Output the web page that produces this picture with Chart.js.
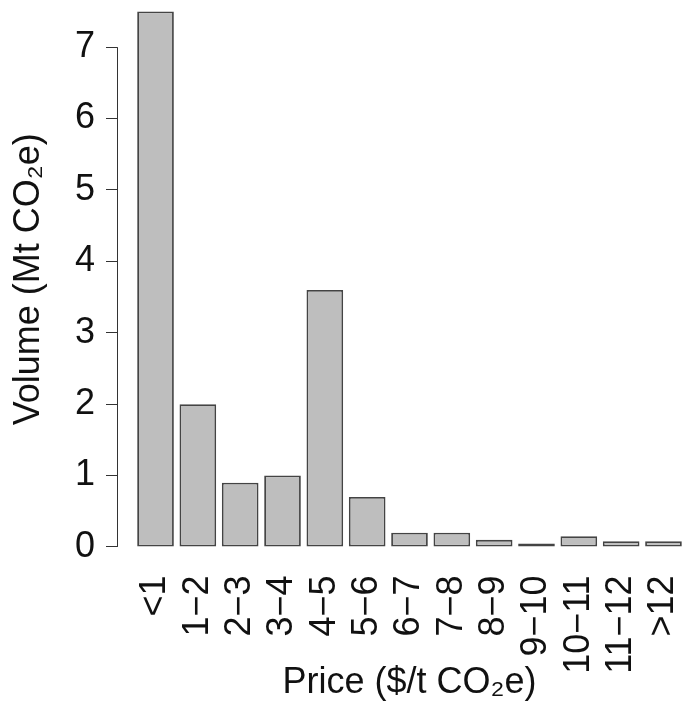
<!DOCTYPE html>
<html>
<head>
<meta charset="utf-8">
<script src="https://cdn.jsdelivr.net/npm/chart.js@4.4.0/dist/chart.umd.min.js"></script>
<style>
  html, body { margin: 0; padding: 0; background: #fff; overflow: hidden; }
  #wrap { position: absolute; left: 0; top: -10px; }
</style>
</head>
<body>
<div id="wrap"><canvas id="myChart" width="702" height="718"></canvas></div>
<script>
// price bins ($/t CO2e)
var priceBins = ["<1", "1−2", "2−3", "3−4", "4−5", "5−6", "6−7", "7−8", "8−9", "9−10", "10−11", "11−12", ">12"];
// traded volume per bin (Mt CO2e)
var volumes = [7.5, 2.0, 0.9, 1.0, 3.6, 0.7, 0.2, 0.2, 0.1, 0.05, 0.15, 0.08, 0.08];
// y axis ticks
var yTicks = [0, 1, 2, 3, 4, 5, 6, 7];

var font = "'Liberation Sans', Arial, sans-serif";
var textColor = "#111";

// R style axis: line runs only from first to last tick
var axisLine = {
    id: "axisLine",
    afterDraw: function (chart) {
        var y = chart.scales.y;
        var ctx = chart.ctx;
        var x = Math.round(chart.chartArea.left) + 0.5;
        ctx.save();
        ctx.strokeStyle = "#333";
        ctx.lineWidth = 1;
        ctx.beginPath();
        ctx.moveTo(x, y.getPixelForValue(yTicks[0]));
        ctx.lineTo(x, y.getPixelForValue(yTicks[yTicks.length - 1]));
        ctx.stroke();
        ctx.restore();
    }
};

var ctx = document.getElementById("myChart");
var myChart = new Chart(ctx, {
    type: "bar",
    data: {
        datasets: [{
            data: priceBins.map(function (b, i) { return { x: i, y: volumes[i] }; }),
            backgroundColor: "#bebebe",
            borderColor: "#444",
            borderWidth: 1.8,
            borderSkipped: false,
            barPercentage: 0.866,
            categoryPercentage: 1
        }]
    },
    options: {
        responsive: false,
        animation: false,
        layout: { padding: 0 },
        plugins: {
            legend: { display: false },
            tooltip: { enabled: false }
        },
        scales: {
            x: {
                type: "linear",
                offset: false,
                min: -0.91,
                max: 12.91,
                grid: { display: false, drawTicks: false },
                border: { display: false },
                afterBuildTicks: function (scale) {
                    scale.ticks = priceBins.map(function (b, i) { return { value: i }; });
                },
                afterFit: function (scale) {
                    scale.height = 139.6;
                    scale.paddingLeft = 0;
                    scale.paddingRight = 0;
                },
                ticks: {
                    autoSkip: false,
                    minRotation: 90,
                    maxRotation: 90,
                    padding: 7,
                    color: textColor,
                    font: { family: font, size: 36 },
                    callback: function (v) { return priceBins[v]; }
                },
                title: {
                    display: true,
                    text: "Price ($/t CO₂e)",
                    color: textColor,
                    font: { family: font, size: 36 },
                    padding: { top: 0, bottom: 3 }
                }
            },
            y: {
                min: -0.3,
                max: 7.8,
                afterBuildTicks: function (scale) {
                    scale.ticks = yTicks.map(function (v) { return { value: v }; });
                },
                afterFit: function (scale) {
                    scale.width = 117;
                    scale.paddingTop = 0;
                    scale.paddingBottom = 0;
                },
                grid: {
                    drawOnChartArea: false,
                    drawTicks: true,
                    tickLength: 11,
                    color: "#333",
                    lineWidth: 1
                },
                border: { display: false },
                ticks: {
                    padding: 11,
                    color: textColor,
                    font: { family: font, size: 36 }
                },
                title: {
                    display: true,
                    text: "Volume (Mt CO₂e)",
                    color: textColor,
                    font: { family: font, size: 36 },
                    padding: { top: 7, bottom: 0 }
                }
            }
        }
    },
    plugins: [axisLine]
});
</script>
</body>
</html>
